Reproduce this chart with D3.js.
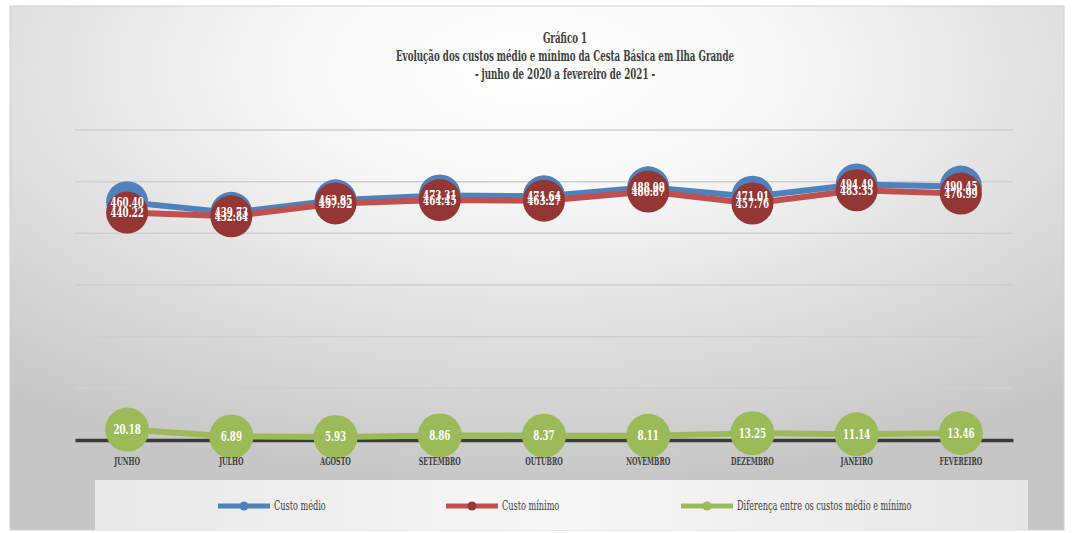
<!DOCTYPE html>
<html>
<head>
<meta charset="utf-8">
<script src="https://cdn.jsdelivr.net/npm/d3@7"></script>
<style>
  body { margin: 0; background: #fff; }
  text { font-family: "DejaVu Serif", "Liberation Serif", serif; }
</style>
</head>
<body>
<svg id="chart"></svg>
<script>
// chart data
var months = ["JUNHO", "JULHO", "AGOSTO", "SETEMBRO", "OUTUBRO", "NOVEMBRO", "DEZEMBRO", "JANEIRO", "FEVEREIRO"];
var custoMedio = [460.40, 439.73, 463.85, 473.31, 471.64, 488.98, 471.01, 494.49, 490.45];
var custoMinimo = [440.22, 432.84, 457.92, 464.45, 463.27, 480.87, 457.76, 483.35, 476.99];
var diferenca = [20.18, 6.89, 5.93, 8.86, 8.37, 8.11, 13.25, 11.14, 13.46];
var yTicks = [100, 200, 300, 400, 500, 600];
var titleLines = ["Gráfico 1", "Evolução dos custos médio e mínimo da Cesta Básica em Ilha Grande", "- junho de 2020 a fevereiro de 2021 -"];
var legendNames = ["Custo médio", "Custo mínimo", "Diferença entre os custos médio e mínimo"];

var W = 1074, H = 533;
var svg = d3.select('#chart').attr('width', W).attr('height', H);

// condensed text: the reference uses a narrow serif, so squeeze it horizontally
function narrow(sel, x, y, sx) {
    return sel.append('text')
        .attr('transform', 'translate(' + x + ',' + y + ') scale(' + sx + ',1)');
}

// background with radial gradient
var defs = svg.append('defs');
var bg = defs.append('radialGradient').attr('id', 'bg')
    .attr('cx', '50%').attr('cy', '12%').attr('r', '80%');
bg.append('stop').attr('offset', '0%').attr('stop-color', '#ffffff');
bg.append('stop').attr('offset', '30%').attr('stop-color', '#f7f7f7');
bg.append('stop').attr('offset', '100%').attr('stop-color', '#c6c6c6');
var lg = defs.append('linearGradient').attr('id', 'lg');
lg.append('stop').attr('offset', '0%').attr('stop-color', '#e8e8e8');
lg.append('stop').attr('offset', '50%').attr('stop-color', '#f7f7f7');
lg.append('stop').attr('offset', '100%').attr('stop-color', '#e6e6e6');

svg.append('rect').attr('x', 10).attr('y', 6).attr('width', 1054).attr('height', 524)
    .attr('fill', 'url(#bg)').attr('stroke', '#d0d0d0').attr('stroke-width', 1);

// title
titleLines.forEach(function(t, i) {
    narrow(svg, 565, 43 + i * 18, 0.58)
        .attr('text-anchor', 'middle')
        .attr('font-size', '15px')
        .attr('font-weight', 'bold')
        .attr('fill', '#404040')
        .text(t);
});

// scales
var x = d3.scaleBand().domain(months).range([75, 1013]);
var y = d3.scaleLinear().domain([0, 600]).range([440, 130]);
function cx(i) { return x(months[i]) + x.bandwidth() / 2; }

// gridlines
svg.selectAll('.grid').data(yTicks).enter().append('line')
    .attr('x1', 75).attr('x2', 1013)
    .attr('y1', function(d) { return y(d); }).attr('y2', function(d) { return y(d); })
    .attr('stroke', '#cfcfcf').attr('stroke-width', 1.5);

// x axis line (labels added later so they sit over the markers)
var xAxis = svg.append('g').attr('transform', 'translate(0,' + y(0) + ')')
    .call(d3.axisBottom(x).tickSize(0).tickPadding(16));
xAxis.select('.domain').attr('stroke', '#3a3a3a').attr('stroke-width', 3.5);
xAxis.selectAll('.tick').remove();

var series = [
    { vals: custoMedio, line: '#4f81bd', fill: '#4f81bd', r: 21 },
    { vals: custoMinimo, line: '#c0504d', fill: '#943634', r: 21 },
    { vals: diferenca, line: '#9bbb59', fill: '#9bbb59', r: 22 }
];

var line = d3.line().x(function(d, i) { return cx(i); }).y(function(d) { return y(d); });

series.forEach(function(s) {
    svg.append('path').datum(s.vals)
        .attr('d', line).attr('fill', 'none')
        .attr('stroke', s.line).attr('stroke-width', 6).attr('stroke-linejoin', 'round');
    svg.selectAll(null).data(s.vals).enter().append('circle')
        .attr('cx', function(d, i) { return cx(i); })
        .attr('cy', function(d) { return y(d); })
        .attr('r', s.r)
        .attr('fill', s.fill);
});

// data labels
series.forEach(function(s) {
    s.vals.forEach(function(d, i) {
        narrow(svg, cx(i), y(d) + 4.5, 0.7)
            .attr('text-anchor', 'middle')
            .attr('font-size', '12.5px')
            .attr('font-weight', 'bold')
            .attr('fill', '#ffffff')
            .text(d.toFixed(2));
    });
});

// category labels
var xLabels = svg.append('g').attr('transform', 'translate(0,' + y(0) + ')')
    .call(d3.axisBottom(x).tickSize(0).tickPadding(17));
xLabels.select('.domain').remove();
xLabels.selectAll('text')
    .attr('font-size', '11.5px').attr('font-weight', 'bold').attr('fill', '#404040')
    .attr('font-family', '"DejaVu Serif", serif')
    .attr('transform', 'scale(0.55,1)');

// legend
svg.append('rect').attr('x', 95).attr('y', 480).attr('width', 933).attr('height', 50)
    .attr('fill', 'url(#lg)');
var legendX = [218, 446, 681];
series.forEach(function(s, i) {
    var g = svg.append('g').attr('transform', 'translate(' + legendX[i] + ',506)');
    g.append('line').attr('x1', 0).attr('x2', 52).attr('stroke', s.line).attr('stroke-width', 5);
    g.append('circle').attr('cx', 26).attr('r', 4.5).attr('fill', s.fill);
    narrow(g, 56, 4, 0.68).attr('font-size', '12px')
        .attr('fill', '#404040').text(legendNames[i]);
});
</script>
</body>
</html>
